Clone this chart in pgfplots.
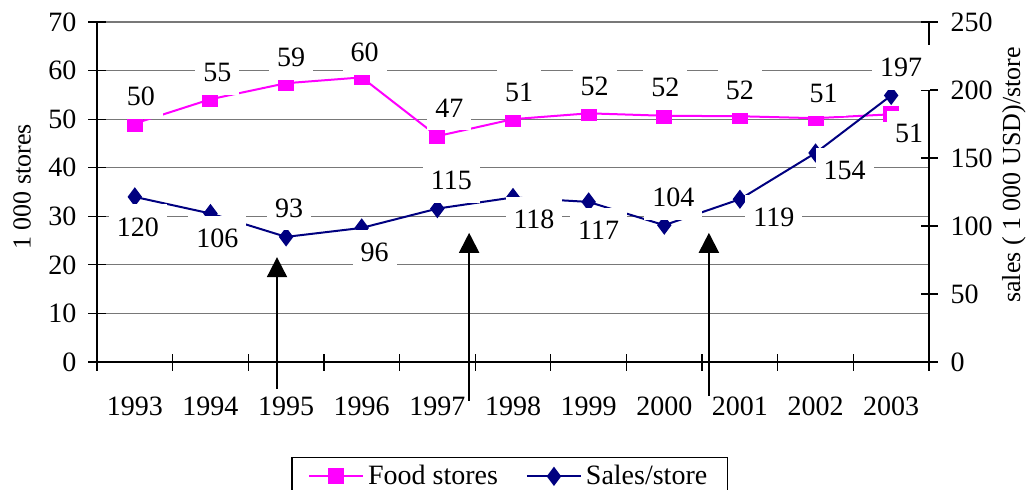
\documentclass[border=0pt]{standalone}
\usepackage{fontspec}
\setmainfont{Liberation Serif}
\usepackage{pgfplots}
\usepackage{pgfplotstable}
\pgfplotsset{compat=1.18}
\usetikzlibrary{arrows.meta}

\definecolor{foodmag}{RGB}{255,0,255}
\definecolor{salesnavy}{RGB}{0,0,128}
\definecolor{gridgray}{RGB}{120,120,120}
\newcommand{\fsz}{\fontsize{14}{16}\selectfont}
\newcommand{\lsz}{\fontsize{13}{15}\selectfont}

% food stores (1 000), left axis; label text and label offset in pt
\pgfplotstableread{
x y lab dx dy
0 49.1 50 3 13.5
1 54.1 55 3.5 13.5
2 57.4 59 2.5 13
3 58.6 60 1.5 12.5
4 46.5 47 6 14
5 50.0 51 3 13.5
6 51.2 52 3 13.5
7 50.7 52 0.5 14
8 50.6 52 0 13
9 50.2 51 4 12.5
10 51.0 51 9 -9.5
}\foodtab

% sales per store (1 000 USD), right axis
\pgfplotstableread{
x y lab dx dy
0 121.4 120 1.5 -15
1 109.2 106 3.5 -12.5
2 92.0 93 1.5 14.5
3 98.6 96 6.5 -12
4 112.8 115 7 14
5 121.0 118 10.5 -11
6 117.7 117 5 -14
7 100.6 104 4.5 14
8 119.7 119 17 -9
9 153.7 154 14.5 -8.5
10 196.0 197 5 14
}\salestab

\pgfplotsset{
  labstyle/.style={
    point meta=explicit symbolic,
    nodes near coords,
    visualization depends on={\thisrow{dx}\as\labdx},
    visualization depends on={\thisrow{dy}\as\labdy},
    every node near coord/.append style={font=\fsz, text=black, fill=white,
      inner xsep=4pt, inner ysep=6.5pt, anchor=center,
      xshift=\labdx pt, yshift=\labdy pt},
  },
  base/.style={
    scale only axis, width=416pt, height=170pt,
    xmin=-0.5, xmax=10.5,
    clip=false,
    tick align=center,
    major tick length=8.5pt,
    minor tick length=8.5pt,
    tick style={black, line width=0.6pt},
    tick label style={font=\fsz},
    /pgf/number format/assume math mode=true,
    axis line style={black, line width=0.75pt},
  },
}

\begin{document}
\begin{tikzpicture}
\begin{axis}[base, name=ax,
  axis x line*=bottom, axis y line*=left,
  ymin=0, ymax=70, ytick={0,10,...,70},
  xtick={0,...,10},
  xticklabels={1993,1994,1995,1996,1997,1998,1999,2000,2001,2002,2003},
  minor xtick={-0.5,0.5,...,10.5},
  major x tick style={draw=none},
  xticklabel style={yshift=-9.5pt},
  yticklabel style={xshift=-2.5pt},
  ymajorgrids, grid style={gridgray, line width=0.6pt},
  ylabel={1 000 stores},
  every axis y label/.style={at={(axis description cs:-0.09,0.515)}, anchor=center, rotate=90, font=\lsz},
  legend style={at={(0.496,-0.278)}, anchor=north, legend columns=2, draw=black,
    line width=0.6pt, font=\fsz, inner xsep=8pt,
    /tikz/every even column/.append style={column sep=12pt}},
  legend image code/.code={\draw[mark repeat=2, mark phase=2, #1]
    plot coordinates {(0pt,0pt) (13.5pt,0pt) (27pt,0pt)};},
]
\addplot[foodmag, line width=1pt, mark=square*, mark size=3.5pt, labstyle]
  table[x=x, y=y, meta=lab] {\foodtab};
\addlegendentry{Food stores}
\addlegendimage{salesnavy, line width=1pt, mark=diamond*, mark size=4pt}
\addlegendentry{Sales/store}
\end{axis}

\begin{axis}[base,
  axis y line*=right, axis x line=none,
  ymin=0, ymax=250, ytick={0,50,...,250},
  yticklabel style={xshift=3pt},
  ylabel={sales ( 1 000 USD)/store},
  every axis y label/.style={at={(axis description cs:1.102,0.55)}, anchor=center, rotate=90, font=\lsz},
]
\addplot[salesnavy, line width=1pt, mark=diamond*, mark size=4pt, labstyle]
  table[x=x, y=y, meta=lab] {\salestab};
\draw[line width=1pt, -{Triangle[width=10pt,length=10pt]}] (axis cs:1.88,-20) -- (axis cs:1.88,77.1);
\draw[line width=1pt, -{Triangle[width=10pt,length=10pt]}] (axis cs:4.42,-28.6) -- (axis cs:4.42,95);
\draw[line width=1pt, -{Triangle[width=10pt,length=10pt]}] (axis cs:7.59,-25) -- (axis cs:7.59,95);
\end{axis}

\pgfresetboundingbox
\path[use as bounding box] (ax.south west) ++(-48.5pt,-63.5pt) rectangle ++(514.5pt,244.5pt);
\end{tikzpicture}
\end{document}
